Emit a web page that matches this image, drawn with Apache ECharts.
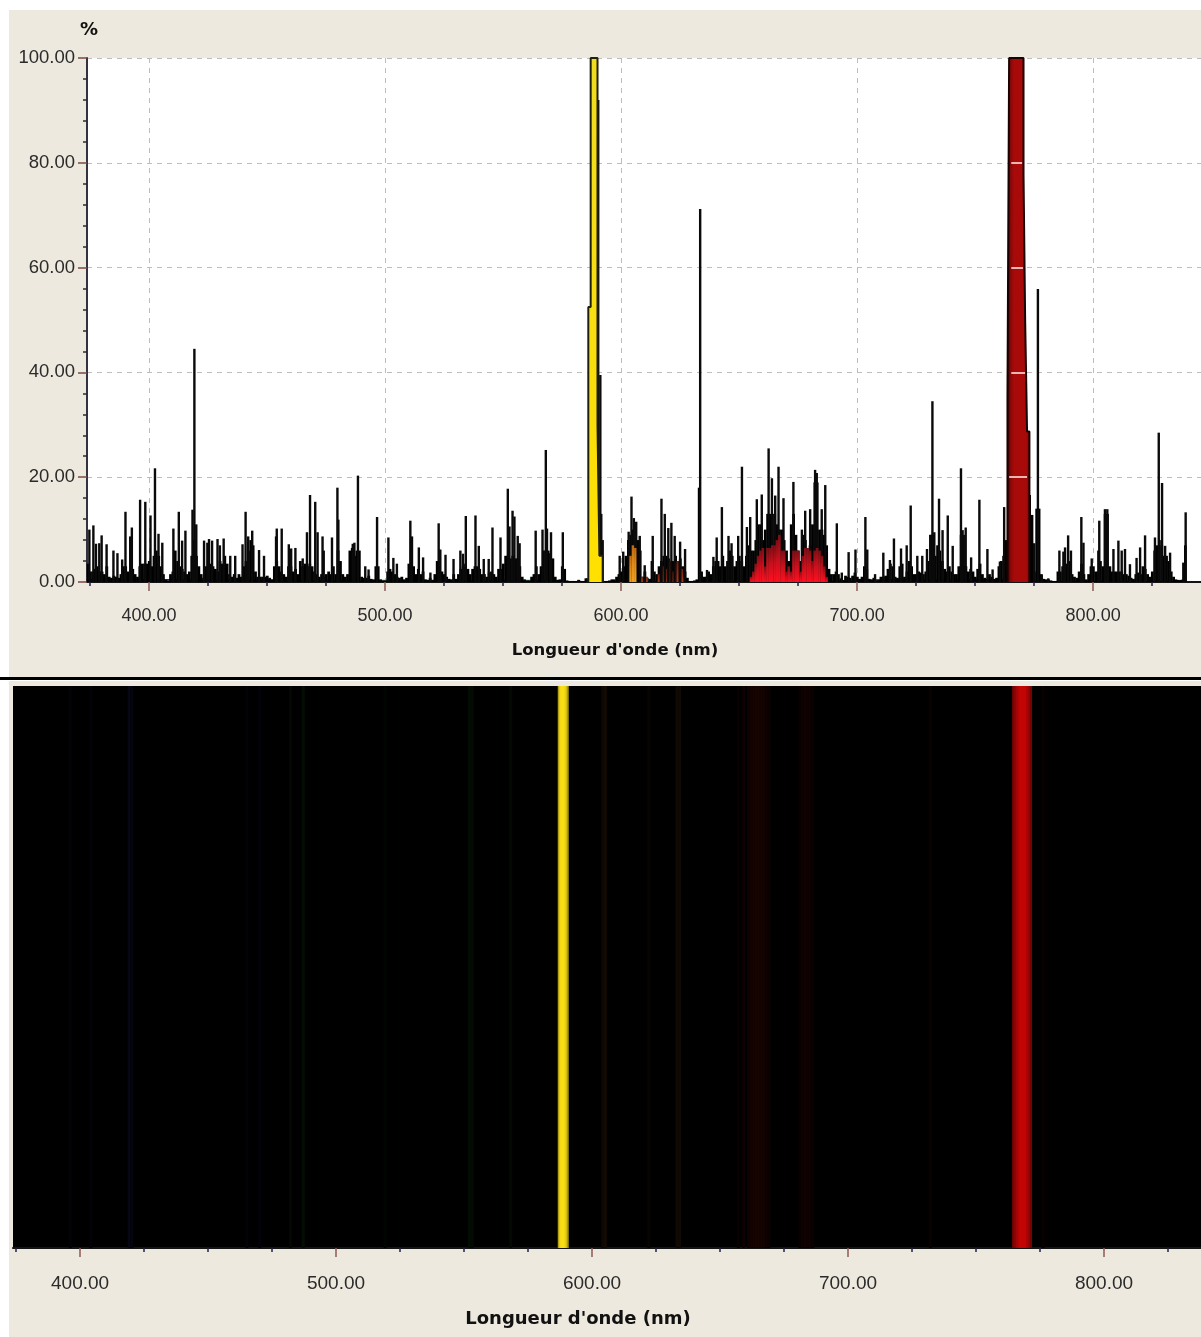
<!DOCTYPE html>
<html><head><meta charset="utf-8">
<style>html,body{margin:0;padding:0;background:#fff}#c{width:1201px;height:1337px}</style>
<script src="https://cdn.jsdelivr.net/npm/echarts@6/dist/echarts.min.js"></script>
</head><body><div id="c"></div>
<script>
// ---------- data ----------
const majorTicks=[400,500,600,700,800];
const minorTicks=[375,425,450,475,525,550,575,625,650,675,725,750,775,825];
const floorStart=374;
const floorVal=[
3.5,2,2,2.5,3,2,2,1.5,3,1,
0.8,1.2,1,0.8,1.5,3,3,2,4,2.5,
1.5,1,3,3.5,3.5,3.5,4,3,5,6,
5,3,1.5,0.4,0.3,1.5,2,6,4,3,
2.5,2,1.5,2,5,8,5,3,1.5,0.8,
3,4,3.5,3,2.5,2,4,3.5,5,3.5,
1.5,1,1.5,0.8,1.5,1,3,4,6,8,
7,2,1,1,1,1,1.2,0.8,0.5,3,
4,3,2,1.5,1,3,3,2,2.5,1.5,
4,3,3.5,3,3.5,3,2,1.5,1,1.5,
1,1.5,2,1.5,3,1.5,6,4,1.5,1,
1.5,6,6.5,5,6,6,1,0.8,0.8,1.2,
0.6,0.5,3,3,0.5,0.3,0.3,2,2.5,2,
1.5,1,0.8,1,0.5,0.8,3.5,6,3,1.5,
2.5,1.5,2,0.5,0.4,0.8,0.4,1.5,4,3,
2,1.5,1,0.6,0.5,1.5,0.6,1.5,2.5,3,
3.5,2.5,1.5,2.5,3,3,2.5,1.5,1.5,1,
1.8,2,1.5,1,2.5,2.5,3.5,5,5,4.5,
5,4.5,4.5,3,1,0.5,0.3,0.3,1,1.5,
3,1.5,3,6,6,6,5.5,4.5,1,0.4,
0.5,3,2.5,0.3,0.2,0.2,0.2,0.2,0.4,0.2,
0.2,0.7,0,0,0,0,0,0,0,0.2,
0.2,0.3,0.5,0.5,1,1.5,2,3,5,8,
9,10,9,8,6,1,2,0.8,0.6,4,
2,1.5,3,4,5,5,4.5,3.5,4,5,
4,4.5,3,2,0.8,0.2,0.2,0.3,0.5,18,
2,1,1,2,1.5,3,4,4,3,5,
3,4,6,5,3,4,5,4,3,5,
7,6,6,8,11,11,8,10,13,13,
13,13,11,10,10,8,6,4,11,13,
9,6,4,9,8,6,7,11,19,19,
10,10,9,7,2.5,1.5,1.5,2,1.5,0.7,
0.4,1.2,1,0.8,1.2,1.8,1,0.6,1,3,
2.5,0.6,0.4,0.8,0.3,0.4,1,1,1.2,2.5,
3.5,3,1,0.8,3,3.5,1,2,4,3,
1.5,1.5,2,1.8,1.5,2,4,9,9,5,
7,6,4,2.5,2,3,2,1.5,1.5,3,
9,9,3,2,2.5,2,1,2.5,3.5,1.5,
0.8,0.6,1.5,1,0.6,0.8,3,4,5,8,
0,0,0,0,0,0,0,0,0,16.6,
12.8,2,14,14,1.5,0.6,0.5,0.5,0.3,0.2,
0.2,2,2,3,3,3.5,4,1.5,1,0.8,
2,3.5,1.5,0.5,1.5,3,3,2,2,4,
3,13,13,3,2,2,2,2,2,1.5,
1.5,1.2,0.8,0.6,1.5,1.8,1.5,3,2.5,1.5,
1,2,6,7,8,7,5,5,4,2,
1,0.5,0.4,0.4,0.5,7,0];
const spikeNm=[374.7,376.4,377.5,378.9,379.9,382,384.9,386.6,388.6,390,392,392.7,396.2,398.4,400.6,402.5,404,405.6,410.3,412.6,414,415.4,418.4,419.2,420,423.3,424.7,425.4,426.7,429,430,431.6,434.4,436.5,439.6,440.9,442,443.7,446.6,448.7,453.8,454.1,456.2,459.2,460.2,462,465.1,466.9,468.2,470.4,471.4,473.5,474,477.5,480.2,479.8,486.3,487,488.5,491.6,493,496.6,501.4,503.5,505,
510.7,511.4,514.3,516.1,519.2,522.7,523.4,525.6,529,531.9,533,534.2,538.3,539.7,541.8,543.9,545.5,548.9,552,552.7,554,554.8,556.2,557,563.8,566.7,568.1,568.6,570.3,575.3,582,585.6,
599.4,600.9,603.2,604.4,605.4,606.4,607.9,610,613.4,617.1,618.5,620,621.3,622.7,625,627.1,633.5,636.4,639.1,640.5,642.7,645.5,646.8,649.6,651.2,653.3,654.7,657.5,659.6,662.5,663.9,665.3,666.7,668.8,673,676.6,678,680.1,682.2,682.9,685,686.5,691.4,693.5,696.4,699.3,703.5,704.3,707.6,711.1,713.9,715.6,718.6,721,722.7,725.5,727.6,729.6,731.2,731.9,732.7,734.7,736.2,738.4,740.5,744,744.7,746,748.3,751.8,755.2,757.4,760.5,762.3,
775,776.6,778.2,781,785.7,787.4,788.1,789.4,790.6,795,795.9,799.4,802.2,802.6,805,806,808.6,810.7,812.1,813.5,815.6,818.4,819.9,822,826.2,827.8,829.2,830.5,832.6,838.2,839.2];
const spikeVal=[10,10.8,7.3,7.4,8.9,7.2,6,5.5,4.3,13.4,8.7,10.4,15.7,15.3,12.7,21.7,9.2,7.5,10.2,13.4,7.9,9.8,13.8,44.5,11,7.9,7.5,8.2,7.9,8.2,7,8.3,5,5,7.2,13.4,8.7,9.8,6.1,5,8.7,10.2,10.2,7.2,6.4,6.5,4.5,9.5,16.6,15.3,9.5,8.7,6,8.5,11.9,18,7.3,7.5,20.3,3,2.4,12.4,8.5,4.6,3.5,
11.7,8.7,6.6,4.7,1.8,11.2,6.2,5.2,4.4,6,5.4,12.6,12.7,6.9,4.4,4.4,10.4,8.5,17.8,10.6,13.6,12.5,8.8,7.4,9.8,10,25.2,10.2,9.5,9.5,0.4,0.7,
5,5.8,9.6,16.3,12.2,11.5,8.8,3.2,8.8,15.9,13,10.3,11.3,8.8,7.7,6.3,71.2,2.3,4.8,8.5,14.3,8.8,7.4,8.8,22,10.5,12.4,15.8,16.7,25.5,19.8,16.5,22,16,19.1,10,13.6,13.9,21.4,20.8,13.9,18.5,11.2,1.8,5.7,6.2,12.4,6.2,1.5,5.6,4.2,8.3,6.4,7,14.6,5,5,6.3,9,34.5,9.5,15.9,9.9,12.7,6.9,21.7,9.9,10.4,4.7,15.7,6.3,2.4,3.9,14.3,
7.4,55.9,1.3,0.7,6,5.8,6.6,8.9,6,12.4,7.5,4.5,6,11.7,13.9,13.9,6.3,7.9,6,6.3,3.4,4.6,6.6,8.9,8.5,28.5,18.9,6.9,5.6,3.7,13.3];
// main peaks: each value holds from its wavelength to the next one
const yellowNm=[586.1,587.1,590,590.8,592.2];
const yellowVal=[52.5,100,30,5,0];
const yellowEdgeNm=[590.3,591.2,591.6,592.2];
const yellowEdgeVal=[92,39.5,13,8];
const redNm=[763.7,764.4,770.5,771.2,772,773];
const redVal=[35.3,100,77.7,49.7,28.7,0];
const redGapLevel=[80,60,40,20];
const redGapFrom=[765.3,765.3,765.3,764.4];
const redGapTo=[769.9,770.3,771.2,772];
// coloured parts under the envelope
const redFillNm=[655,656,657,658,659,660,661,662,663,664,665,666,667,668,669,670,671,672,673,674,675,676,677,678,679,680,681,682,683,684,685,686,687];
const redFillVal=[1,2,3.5,5,6,6.5,3,6.5,6.5,7,7,8,9,6,6,2,3,2,6,6,6,2,5,6.5,6.5,6,4,6,6.5,6,5,3,1];
const orangeNm=[604,605,606];
const orangeVal=[5,7,6.5];
const brownNm=[609,611,616,618,619,620,621,622,623,624,625,626,627];
const brownVal=[1,1,1.5,3,2.5,3,4,2,3.5,4,3,2.5,1];
const violetLineNm=[374,420,421];
const violetLineVal=[0.45,0.45,0.45];
const blueLineNm=[421,455];
const blueLineVal=[0.35,0.35];
const tealLineNm=[455,478];
const tealLineVal=[0.3,0.3];
const greenLineNm=[478,575];
const greenLineVal=[0.3,0.3];
const wineLineNm=[700,762];
const wineLineVal=[0.4,0.4];
// lower panel: relative brightness of each spectral strip
const yStripNm=[587,587.5,588,588.5,589,589.5,590,590.5];
const yStripLvl=[0.72,0.92,1,1,1,0.98,0.9,0.7];
const rStripNm=[764.5,765,765.5,766,766.5,767,767.5,768,768.5,769,769.5,770,770.5,771,771.5];
const rStripLvl=[0.6,0.68,0.74,0.82,0.9,0.97,1,1,1,1,0.97,0.9,0.8,0.72,0.6];
const blueStripNm=[396,404,419,420,465,470];
const blueStripLvl=[0.03,0.03,0.08,0.05,0.03,0.03];
const greenStripNm=[482,487,519,552,553,568];
const greenStripLvl=[0.03,0.05,0.02,0.05,0.04,0.04];
const brownStripNm=[604,605,622,633,634];
const brownStripLvl=[0.06,0.08,0.03,0.06,0.06];
const dimRedNm=[657,659,661,662,663,664,665,666,667,668,669,681,682,683,684,685,686,732,776];
const dimRedLvl=[0.03,0.05,0.06,0.07,0.08,0.09,0.09,0.08,0.07,0.06,0.04,0.03,0.05,0.06,0.05,0.05,0.03,0.04,0.03];

// ---------- styles ----------
const pair=(a,b)=>a.map((x,i)=>[x,b[i]]);
// expands "value holds until the next wavelength" into the outline of a stepped peak
const stepOutline=(a,b)=>{const o=[[a[0],0]];a.forEach((x,i)=>{o.push([x,b[i]]);if(i<a.length-1)o.push([a[i+1],b[i]]);});return o;};
const TXT='#2b2b2b',FONT='"Liberation Sans"',TITLE='"DejaVu Sans"';
const mix=(rgb,l)=>`rgb(${rgb.map(c=>Math.round(c*l)).join(',')})`;
const vgrad=stops=>new echarts.graphic.LinearGradient(0,1,0,0,stops.map((c,i)=>({offset:i/(stops.length-1),color:c})));
const hgrad=stops=>new echarts.graphic.LinearGradient(0,0,1,0,stops.map(s=>({offset:s[0],color:s[1]})));
const TOPX=[373.7,845.7],BOTX=[373.8,837.9];
const xMajor=(gridIndex,ext,margin,gap)=>({type:'value',gridIndex,min:ext[0],max:ext[1],position:'bottom',
  axisLine:{onZero:false,lineStyle:{color:'#141414',width:2}},
  axisTick:{customValues:majorTicks,length:9,lineStyle:{color:'#8a5a55',width:1.5}},
  axisLabel:{customValues:majorTicks,margin,color:TXT,fontFamily:FONT,fontSize:gridIndex===0?18:19,formatter:v=>v.toFixed(2),showMinLabel:true,showMaxLabel:true},
  splitLine:{show:gridIndex===0,lineStyle:{color:'#bdbdbd',type:[5,5],width:1}},
  name:"Longueur d'onde (nm)",nameLocation:'middle',nameGap:gap,
  nameTextStyle:{color:'#111',fontFamily:TITLE,fontWeight:'bold',fontSize:gridIndex===0?16.5:18,padding:[0,58,0,0]}});
const xMinor=(gridIndex,ext)=>({type:'value',gridIndex,min:ext[0],max:ext[1],position:'bottom',
  axisLine:{show:false},axisLabel:{show:false},splitLine:{show:false},
  axisTick:{customValues:minorTicks,length:4,lineStyle:{color:'#22224a',width:1.5}}});
const bar=(name,data,width,color,z,x=0,y=0)=>({name,type:'bar',xAxisIndex:x,yAxisIndex:y,data,barWidth:width,barGap:'-100%',z,silent:true,itemStyle:{color},animation:false});
const baseLine=(name,a,b,color)=>({name,type:'line',data:pair(a,b),showSymbol:false,silent:true,z:1,lineStyle:{color,width:1.5},animation:false});
const peak=(name,a,b,fill,stroke,z,extra)=>Object.assign({name,type:'line',data:stepOutline(a,b),showSymbol:false,silent:true,z,
  lineStyle:{color:stroke,width:2},areaStyle:{color:fill,opacity:1},animation:false},extra||{});
const strip=(name,a,b,rgb,w)=>({name,type:'bar',xAxisIndex:2,yAxisIndex:1,barWidth:w,barGap:'-100%',silent:true,animation:false,
  data:a.map((x,i)=>({value:[x,1],itemStyle:{color:mix(rgb,b[i])}}))});

const chart=echarts.init(document.getElementById('c'),null,{renderer:'canvas',width:1201,height:1337});
chart.setOption({
  animation:false,backgroundColor:'#fff',
  graphic:[
    {type:'rect',z:-10,shape:{x:9,y:10,width:1192,height:667},style:{fill:'#EEE9DE'}},
    {type:'rect',z:-10,shape:{x:0,y:677,width:1201,height:3},style:{fill:'#000'}},
    {type:'rect',z:-10,shape:{x:9,y:681,width:1192,height:656},style:{fill:'#EEE9DE'}}
  ],
  grid:[
    {left:87,right:0,top:58,height:524,show:true,backgroundColor:'#fff',borderWidth:0,containLabel:false},
    {left:13,right:0,top:686,height:562,show:true,backgroundColor:'#000',borderWidth:0,containLabel:false}
  ],
  xAxis:[xMajor(0,TOPX,25,60),xMinor(0,TOPX),xMajor(1,BOTX,26,62),xMinor(1,BOTX)],
  yAxis:[
    {type:'value',gridIndex:0,min:0,max:100,interval:20,name:'%',nameLocation:'end',nameGap:19,
     nameTextStyle:{color:'#111',fontFamily:TITLE,fontWeight:'bold',fontSize:18,align:'center',padding:[0,0,0,4]},
     axisLine:{show:true,onZero:false,lineStyle:{color:'#33333f',width:2}},
     axisTick:{show:true,length:9,lineStyle:{color:'#7a4a45',width:1.5}},
     minorTick:{show:true,splitNumber:5,length:4,lineStyle:{color:'#2a2a38',width:1.5}},
     axisLabel:{margin:12,color:TXT,fontFamily:FONT,fontSize:18.5,formatter:v=>v.toFixed(2)},
     splitLine:{show:true,lineStyle:{color:'#bdbdbd',type:[5,5],width:1}}},
    {type:'value',gridIndex:1,min:0,max:1,show:false,splitLine:{show:false}}
  ],
  series:[
    baseLine('Violet',violetLineNm,violetLineVal,'#2c1490'),
    baseLine('Bleu',blueLineNm,blueLineVal,'#1d2a8a'),
    baseLine('Turquoise',tealLineNm,tealLineVal,'#2a8a8a'),
    baseLine('Vert',greenLineNm,greenLineVal,'#35a050'),
    baseLine('Bordeaux',wineLineNm,wineLineVal,'#4a0808'),
    bar('Enveloppe',floorVal.map((v,i)=>[floorStart+i,v]),2.8,'#000',2),
    bar('Brun',pair(brownNm,brownVal),2,vgrad(['#a83818','#6a2010']),3),
    bar('Raies',pair(spikeNm,spikeVal),2.4,'#0a0a0a',4),
    bar('Rouge',pair(redFillNm,redFillVal),2.6,vgrad(['#ff0f20','#c8101c','#7a0e14']),5),
    bar('Orange',pair(orangeNm,orangeVal),2.4,vgrad(['#f0a020','#e08a18','#c06810']),5),
    bar('Bord jaune',pair(yellowEdgeNm,yellowEdgeVal),2.4,'#0c0c0c',6),
    peak('Pic jaune',yellowNm,yellowVal,vgrad(['#ffe000','#f8de10','#f0dc20']),'#20200f',7),
    peak('Pic rouge',redNm,redVal,hgrad([[0,'#3a0404'],[0.14,'#850808'],[0.3,'#a80a0a'],[0.85,'#a80a0a'],[1,'#7a0606']]),'#1a0202',7,{
      markLine:{symbol:'none',silent:true,animation:false,z:9,label:{show:false},lineStyle:{color:'#fff0ea',type:'solid',width:1.5},
        data:redGapLevel.map((l,i)=>[{coord:[redGapFrom[i],l]},{coord:[redGapTo[i],l]}])}}),
    strip('Bande bleue',blueStripNm,blueStripLvl,[70,70,255],3),
    strip('Bande verte',greenStripNm,greenStripLvl,[70,255,70],3),
    strip('Bande brune',brownStripNm,brownStripLvl,[255,130,50],3),
    strip('Bande rouge',dimRedNm,dimRedLvl,[255,40,10],3),
    strip('Bande jaune',yStripNm,yStripLvl,[250,222,20],2),
    strip('Bande rouge vive',rStripNm,rStripLvl,[195,5,5],2)
  ]
});
</script></body></html>
